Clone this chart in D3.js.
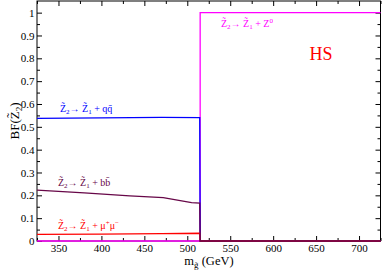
<!DOCTYPE html>
<html><head><meta charset="utf-8">
<script src="https://cdn.jsdelivr.net/npm/d3@7"></script>
<style>body{margin:0;background:#fff}svg{display:block}text{font-family:"Times New Roman","Liberation Serif","DejaVu Serif",serif}</style>
</head><body>
<svg id="c" width="382" height="271"></svg>
<script>
// Data (m_gluino in GeV, branching fraction)
const qqMass = [325, 400, 470, 514.5, 515, 725];
const qqBF   = [0.537, 0.539, 0.541, 0.540, 0, 0];
const bbMass = [325, 380, 433, 472, 505, 514.5, 515, 725];
const bbBF   = [0.223, 0.211, 0.198, 0.190, 0.168, 0.166, 0, 0];
const mumuMass = [325, 400, 470, 514.5, 515, 725];
const mumuBF   = [0.029, 0.030, 0.032, 0.034, 0, 0];
const zMass = [325, 515, 515, 725];
const zBF   = [0, 0, 1.0, 1.0];
const xMajor = [350, 400, 450, 500, 550, 600, 650, 700];
const xMinor = [325, 375, 425, 475, 525, 575, 625, 675, 725];
const yMajor = [0, 0.1, 0.2, 0.3, 0.4, 0.5, 0.6, 0.7, 0.8, 0.9, 1];
const yMinor = [0.05, 0.15, 0.25, 0.35, 0.45, 0.55, 0.65, 0.75, 0.85, 0.95];

const FONT = "'Times New Roman', 'Liberation Serif', serif";
const L = 37, R = 380.5, T = 1, B = 241;
const svg = d3.select("#c");
const x = d3.scaleLinear().domain([325, 725]).range([L, R]);
const y = d3.scaleLinear().domain([0, 1.051]).range([B, T]);

// Frame
svg.append("rect").attr("x", L).attr("y", T).attr("width", R - L).attr("height", B - T)
  .attr("fill", "none").attr("stroke", "#000").attr("stroke-width", 1);

// Axes with inward ticks
const fmtY = d => (d === 0 || d === 1) ? String(d) : d.toFixed(1);
const axBot = svg.append("g").attr("transform", `translate(0,${B})`)
  .call(d3.axisBottom(x).tickValues(xMajor).tickSize(-5).tickPadding(3.5).tickFormat(d3.format("d")));
const axBotMin = svg.append("g").attr("transform", `translate(0,${B})`)
  .call(d3.axisBottom(x).tickValues(xMinor).tickSize(-3).tickFormat(""));
const axTop = svg.append("g").attr("transform", `translate(0,${T})`)
  .call(d3.axisTop(x).tickValues(xMajor).tickSize(-5).tickFormat(""));
const axTopMin = svg.append("g").attr("transform", `translate(0,${T})`)
  .call(d3.axisTop(x).tickValues(xMinor).tickSize(-3).tickFormat(""));
const axLeft = svg.append("g").attr("transform", `translate(${L},0)`)
  .call(d3.axisLeft(y).tickValues(yMajor).tickSize(-5).tickPadding(2.5).tickFormat(fmtY));
const axLeftMin = svg.append("g").attr("transform", `translate(${L},0)`)
  .call(d3.axisLeft(y).tickValues(yMinor).tickSize(-3).tickFormat(""));
const axRight = svg.append("g").attr("transform", `translate(${R},0)`)
  .call(d3.axisRight(y).tickValues(yMajor).tickSize(-5).tickFormat(""));
const axRightMin = svg.append("g").attr("transform", `translate(${R},0)`)
  .call(d3.axisRight(y).tickValues(yMinor).tickSize(-3).tickFormat(""));
[axBot, axBotMin, axTop, axTopMin, axLeft, axLeftMin, axRight, axRightMin].forEach(g => {
  g.attr("font-family", FONT).attr("font-size", 11);
  g.select(".domain").remove();
  g.selectAll("line").attr("stroke", "#000");
  g.selectAll("text").attr("font-size", 11).attr("fill", "#000").style("font-family", FONT);
});

// Series
const lineGen = d3.line().x(d => x(d[0])).y(d => y(d[1]));
const seriesList = [
  {m: zMass, v: zBF, c: "#ff00ff"},
  {m: qqMass, v: qqBF, c: "#0000ff"},
  {m: mumuMass, v: mumuBF, c: "#ff0000"},
  {m: bbMass, v: bbBF, c: "#670748"}
];
seriesList.forEach(s => {
  svg.append("path").datum(s.m.map((m, i) => [m, s.v[i]]))
    .attr("d", lineGen).attr("fill", "none").attr("stroke", s.c).attr("stroke-width", 1.3);
});

// Annotations
function decayLabel(xp, yp, col, tail) {
  const t = svg.append("text").attr("x", xp).attr("y", yp).attr("fill", col)
    .attr("font-size", 10).style("font-family", FONT);
  t.append("tspan").text("Z\u0303");
  t.append("tspan").attr("font-size", 7).attr("dy", 2).text("2");
  t.append("tspan").attr("dy", -2).text("\u2192 Z\u0303");
  t.append("tspan").attr("font-size", 7).attr("dy", 2).text("1");
  t.append("tspan").attr("dy", -2).text(" + ");
  tail(t);
}
decayLabel(60, 112, "#0000ff", t => { t.append("tspan").text("q\u0071\u0304"); });
decayLabel(58, 186, "#670748", t => { t.append("tspan").text("b\u0062\u0304"); });
decayLabel(58, 229, "#ff0000", t => {
  t.append("tspan").text("\u03bc");
  t.append("tspan").attr("font-size", 7).attr("dy", -4).text("+");
  t.append("tspan").attr("dy", 4).text("\u03bc");
  t.append("tspan").attr("font-size", 7).attr("dy", -4).text("\u2212");
});
decayLabel(221, 27, "#ff00ff", t => {
  t.append("tspan").text("Z");
  t.append("tspan").attr("font-size", 7).attr("dy", -4).text("0");
});

svg.append("text").attr("x", 321).attr("y", 60).attr("text-anchor", "middle")
  .attr("fill", "#ff0000").attr("font-size", 18).style("font-family", FONT).text("HS");

// Axis titles
const xt = svg.append("text").attr("x", 209).attr("y", 265).attr("text-anchor", "middle")
  .attr("font-size", 12.5).attr("fill", "#000").style("font-family", FONT);
xt.append("tspan").text("m");
xt.append("tspan").attr("font-size", 9).attr("dy", 3).text("g\u0303");
xt.append("tspan").attr("dy", -3).text(" (GeV)");

const yt = svg.append("text").attr("transform", "translate(19,121) rotate(-90)")
  .attr("text-anchor", "middle").attr("font-size", 13).attr("fill", "#000").style("font-family", FONT);
yt.append("tspan").text("BF(Z\u0303");
yt.append("tspan").attr("font-size", 9).attr("dy", 3).text("2");
yt.append("tspan").attr("dy", -3).text(")");
</script>
</body></html>
